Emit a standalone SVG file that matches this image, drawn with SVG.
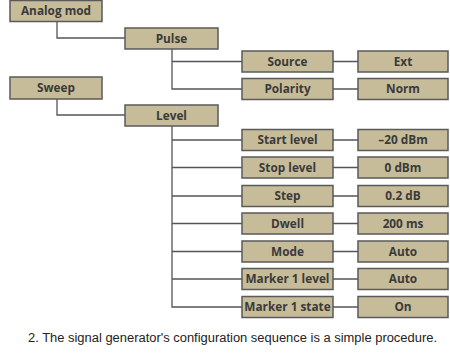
<svg xmlns="http://www.w3.org/2000/svg" width="450" height="361" viewBox="0 0 450 361">
<style>
.b{fill:#c7bc99;stroke:#5a5a5a;stroke-width:1.5}
.t{font-family:"Open Sans","Noto Sans",sans-serif;font-weight:bold;font-size:11.8px;fill:#3a3a3a;text-anchor:middle}
.c{fill:none;stroke:#555;stroke-width:1.3}
.cap{font-family:"Liberation Sans",Arial,sans-serif;font-size:12.5px;fill:#222}
</style>
<rect width="450" height="361" fill="#fff"/>
<g id="connectors" class="c">
<path d="M57 21V38H125"/>
<path d="M57 99V115H125"/>
<path d="M172 49V89H242M172 61.5H242"/>
<path d="M172 126V307H242M172 140H242M172 167.5H242M172 196H242M172 223.5H242M172 251.5H242M172 279H242"/>
<path d="M333 61.5H358M333 89H358M333 140H358M333 167.5H358M333 196H358M333 223.5H358M333 251.5H358M333 279H358M333 307H358"/>
</g>
<g id="analog"><rect class="b" x="10" y="0.5" width="92" height="21"/><text class="t" x="56" y="15.2">Analog mod</text></g>
<g id="pulse"><rect class="b" x="125" y="28" width="93" height="21"/><text class="t" x="171.5" y="42.7">Pulse</text></g>
<g id="sweep"><rect class="b" x="10" y="77" width="92" height="22"/><text class="t" x="56" y="92.2">Sweep</text></g>
<g id="level"><rect class="b" x="125" y="105" width="93" height="21"/><text class="t" x="171.5" y="119.7">Level</text></g>
<g id="source"><rect class="b" x="242" y="51" width="91" height="21"/><text class="t" x="287.5" y="65.7">Source</text></g>
<g id="ext"><rect class="b" x="358" y="51" width="90" height="21"/><text class="t" x="403" y="65.7">Ext</text></g>
<g id="polarity"><rect class="b" x="242" y="78.5" width="91" height="21"/><text class="t" x="287.5" y="93.2">Polarity</text></g>
<g id="norm"><rect class="b" x="358" y="78.5" width="90" height="21"/><text class="t" x="403" y="93.2">Norm</text></g>
<g id="start"><rect class="b" x="242" y="129.5" width="91" height="21"/><text class="t" x="287.5" y="144.2">Start level</text></g>
<g id="startv"><rect class="b" x="358" y="129.5" width="90" height="21"/><text class="t" x="403" y="144.2">–20 dBm</text></g>
<g id="stop"><rect class="b" x="242" y="157" width="91" height="21"/><text class="t" x="287.5" y="171.7">Stop level</text></g>
<g id="stopv"><rect class="b" x="358" y="157" width="90" height="21"/><text class="t" x="403" y="171.7">0 dBm</text></g>
<g id="step"><rect class="b" x="242" y="185.5" width="91" height="21"/><text class="t" x="287.5" y="200.2">Step</text></g>
<g id="stepv"><rect class="b" x="358" y="185.5" width="90" height="21"/><text class="t" x="403" y="200.2">0.2 dB</text></g>
<g id="dwell"><rect class="b" x="242" y="213" width="91" height="21"/><text class="t" x="287.5" y="227.7">Dwell</text></g>
<g id="dwellv"><rect class="b" x="358" y="213" width="90" height="21"/><text class="t" x="403" y="227.7">200 ms</text></g>
<g id="mode"><rect class="b" x="242" y="241" width="91" height="21"/><text class="t" x="287.5" y="255.7">Mode</text></g>
<g id="modev"><rect class="b" x="358" y="241" width="90" height="21"/><text class="t" x="403" y="255.7">Auto</text></g>
<g id="m1l"><rect class="b" x="242" y="268.5" width="91" height="21"/><text class="t" x="287.5" y="283.2">Marker 1 level</text></g>
<g id="m1lv"><rect class="b" x="358" y="268.5" width="90" height="21"/><text class="t" x="403" y="283.2">Auto</text></g>
<g id="m1s"><rect class="b" x="242" y="296.5" width="91" height="21"/><text class="t" x="287.5" y="311.2">Marker 1 state</text></g>
<g id="m1sv"><rect class="b" x="358" y="296.5" width="90" height="21"/><text class="t" x="403" y="311.2">On</text></g>
<text class="cap" x="28" y="342" textLength="409" lengthAdjust="spacingAndGlyphs">2. The signal generator's configuration sequence is a simple procedure.</text>
</svg>
